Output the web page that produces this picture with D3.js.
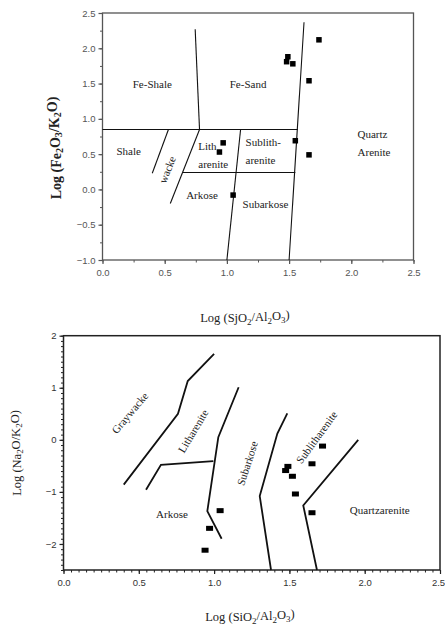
<!DOCTYPE html>
<head>
  <meta charset="utf-8">
  <script src="https://d3js.org/d3.v7.min.js"></script>
  <style>
    body { margin:0; background:#fff; }
    svg { display:block; }
    .serif { font-family: "Liberation Serif", "Times New Roman", serif; fill:#222; }
    .tick text { font-family: "Liberation Sans", Arial, sans-serif; }
  </style>
</head>
<body>
<svg id="chart" width="445" height="625"></svg>
<script>
// ---- top chart data : Log(Fe2O3/K2O) vs Log(SiO2/Al2O3)
var topX = [1.74, 1.49, 1.48, 1.53, 1.66, 1.55, 1.66, 0.97, 0.94, 1.05];
var topY = [2.12, 1.88, 1.81, 1.78, 1.54, 0.69, 0.49, 0.66, 0.53, -0.08];

// field boundaries (top)
var topLines = [
  [[0, 0.85], [1.57, 0.85]],
  [[0.745, 2.27], [0.78, 0.85]],
  [[1.62, 2.37], [1.50, -1.0]],
  [[0.53, 0.85], [0.40, 0.23]],
  [[0.78, 0.85], [0.545, -0.2]],
  [[0.645, 0.24], [1.55, 0.24]],
  [[1.11, 0.85], [1.0, -1.0]]
];
var topLabels = [
  {t:"Fe-Shale", x:0.40, y:1.50, a:"middle", r:0},
  {t:"Fe-Sand", x:1.17, y:1.50, a:"middle", r:0},
  {t:"Shale", x:0.21, y:0.55, a:"middle", r:0},
  {t:"wacke", x:0.52, y:0.28, a:"middle", r:-68},
  {t:"Lith", x:0.77, y:0.62, a:"start", r:0},
  {t:"arenite", x:0.77, y:0.36, a:"start", r:0},
  {t:"Sublith-", x:1.15, y:0.67, a:"start", r:0},
  {t:"arenite", x:1.15, y:0.41, a:"start", r:0},
  {t:"Arkose", x:0.80, y:-0.08, a:"middle", r:0},
  {t:"Subarkose", x:1.31, y:-0.20, a:"middle", r:0},
  {t:"Quartz", x:2.05, y:0.79, a:"start", r:0},
  {t:"Arenite", x:2.05, y:0.53, a:"start", r:0}
];

// ---- bottom chart data : Log(Na2O/K2O) vs Log(SiO2/Al2O3)
var botX = [0.94, 0.97, 1.04, 1.475, 1.49, 1.52, 1.54, 1.65, 1.72, 1.65];
var botY = [-2.12, -1.70, -1.36, -0.59, -0.51, -0.70, -1.04, -0.46, -0.12, -1.40];

var botLines = [
  [[0.40, -0.86], [0.76, 0.50], [0.825, 1.13], [1.0, 1.65]],
  [[0.548, -0.96], [0.647, -0.48], [0.995, -0.41]],
  [[1.163, 1.01], [1.028, 0.05], [0.955, -1.37], [1.05, -1.90]],
  [[1.486, 0.51], [1.42, 0.12], [1.303, -1.08], [1.378, -2.5]],
  [[1.957, 0.0], [1.592, -1.26], [1.683, -2.5]]
];
var botLabels = [
  {t:"Graywacke", x:0.44, y:0.52, a:"middle", r:-50},
  {t:"Litharenite", x:0.86, y:0.17, a:"middle", r:-59},
  {t:"Subarkose", x:1.22, y:-0.45, a:"middle", r:-72},
  {t:"Sublitharenite", x:1.68, y:0.05, a:"middle", r:-54},
  {t:"Arkose", x:0.72, y:-1.42, a:"middle", r:0},
  {t:"Quartzarenite", x:2.10, y:-1.35, a:"middle", r:0}
];

var svg = d3.select("#chart");

// write text with subscripts: parts [text, isSub]
function subText(sel, parts) {
  parts.forEach(function(p, i) {
    var prev = i > 0 ? parts[i-1][1] : 0;
    var dy = (p[1] - prev) * 0.3;
    sel.append("tspan")
      .attr("dy", dy + "em")
      .style("font-size", p[1] ? "72%" : null)
      .text(p[0]);
  });
}

function drawChart(o) {
  var x = d3.scaleLinear().domain(o.xd).range(o.xr);
  var y = d3.scaleLinear().domain(o.yd).range(o.yr);
  var g = svg.append("g");

  // minor ticks
  var minX = d3.range(o.xd[0], o.xd[1] + 1e-9, o.xMinor);
  var minY = d3.range(o.yd[0], o.yd[1] + 1e-9, o.yMinor);
  g.append("g").attr("transform", "translate(0," + o.yr[0] + ")")
    .call(d3.axisBottom(x).tickValues(minX).tickSize(2.5).tickFormat(""))
    .call(function(a) { a.select(".domain").remove(); a.selectAll("line").attr("stroke", o.axisColor); });
  g.append("g").attr("transform", "translate(" + o.xr[0] + ",0)")
    .call(d3.axisLeft(y).tickValues(minY).tickSize(2.5).tickFormat(""))
    .call(function(a) { a.select(".domain").remove(); a.selectAll("line").attr("stroke", o.axisColor); });

  // major ticks
  var xa = g.append("g").attr("transform", "translate(0," + o.yr[0] + ")")
    .call(d3.axisBottom(x).tickValues(o.xTicks).tickSize(4).tickSizeOuter(0).tickFormat(d3.format(".1f")));
  var ya = g.append("g").attr("transform", "translate(" + o.xr[0] + ",0)")
    .call(d3.axisLeft(y).tickValues(o.yTicks).tickSize(4).tickSizeOuter(0).tickFormat(o.yFmt));
  [xa, ya].forEach(function(a) {
    a.select(".domain").remove();
    a.selectAll("line").attr("stroke", o.axisColor).attr("stroke-width", 1.2);
    a.selectAll("text").attr("fill", o.tickColor).style("font-size", "9.5px");
  });
  xa.selectAll("text").attr("dy", "0.9em");
  // keep the last x label inside the page
  xa.selectAll("text").filter(function(d) { return d === o.xd[1]; }).attr("dx", o.lastDx);

  // frame
  g.append("rect")
    .attr("x", o.xr[0]).attr("y", o.yr[1])
    .attr("width", o.xr[1] - o.xr[0]).attr("height", o.yr[0] - o.yr[1])
    .attr("fill", "none").attr("stroke", o.axisColor).attr("stroke-width", o.frameW);

  // boundaries
  var line = d3.line().x(function(d) { return x(d[0]); }).y(function(d) { return y(d[1]); });
  g.selectAll("path.bnd").data(o.lines).enter().append("path")
    .attr("class", "bnd")
    .attr("d", line)
    .attr("fill", "none").attr("stroke", "#111").attr("stroke-width", o.lineW);

  // field labels
  g.selectAll("text.fld").data(o.labels).enter().append("text")
    .attr("class", "fld serif")
    .attr("text-anchor", function(d) { return d.a; })
    .attr("dominant-baseline", "central")
    .attr("transform", function(d) { return "translate(" + x(d.x) + "," + y(d.y) + ") rotate(" + d.r + ")"; })
    .style("font-size", "11px")
    .text(function(d) { return d.t; });

  // samples
  g.selectAll("rect.pt").data(o.px).enter().append("rect")
    .attr("class", "pt")
    .attr("x", function(d) { return x(d) - o.mw / 2; })
    .attr("y", function(d, i) { return y(o.py[i]) - o.mh / 2; })
    .attr("width", o.mw).attr("height", o.mh)
    .attr("fill", "#000");
}

drawChart({
  xd:[0, 2.5], xr:[102.5, 413.5], yd:[-1, 2.5], yr:[260, 13],
  xTicks:[0, 0.5, 1, 1.5, 2, 2.5], yTicks:[-1, -0.5, 0, 0.5, 1, 1.5, 2, 2.5],
  xMinor:0.25, yMinor:0.25, yFmt:d3.format(".1f"), lastDx:0,
  axisColor:"#555", tickColor:"#555", frameW:1.3, lineW:1.1,
  lines:topLines, labels:topLabels, px:topX, py:topY, mw:5.5, mh:5.5
});

drawChart({
  xd:[0, 2.5], xr:[63.5, 440], yd:[-2.5, 2], yr:[570, 335.7],
  xTicks:[0, 0.5, 1, 1.5, 2, 2.5], yTicks:[-2, -1, 0, 1, 2],
  xMinor:0.05, yMinor:0.1, yFmt:d3.format("d"), lastDx:-2,
  axisColor:"#222", tickColor:"#333", frameW:1.5, lineW:1.8,
  lines:botLines, labels:botLabels, px:botX, py:botY, mw:7, mh:5
});

// axis titles
subText(svg.append("text").attr("class", "serif")
    .attr("transform", "translate(56,148) rotate(-90)")
    .attr("text-anchor", "middle").attr("dominant-baseline", "central")
    .style("font-size", "14px").style("font-weight", "bold"),
  [["Log (Fe",0],["2",1],["O",0],["3",1],["/K",0],["2",1],["O)",0]]);

subText(svg.append("text").attr("class", "serif")
    .attr("x", 245).attr("y", 322).attr("text-anchor", "middle")
    .style("font-size", "12.5px"),
  [["Log (SjO",0],["2",1],["/Al",0],["2",1],["O",0],["3",1],[")",0]]);

subText(svg.append("text").attr("class", "serif")
    .attr("transform", "translate(17,453) rotate(-90)")
    .attr("text-anchor", "middle").attr("dominant-baseline", "central")
    .style("font-size", "12.5px"),
  [["Log (Na",0],["2",1],["O/K",0],["2",1],["O)",0]]);

subText(svg.append("text").attr("class", "serif")
    .attr("x", 250).attr("y", 621).attr("text-anchor", "middle")
    .style("font-size", "12.5px"),
  [["Log (SiO",0],["2",1],["/Al",0],["2",1],["O",0],["3",1],[")",0]]);
</script>
</body>
